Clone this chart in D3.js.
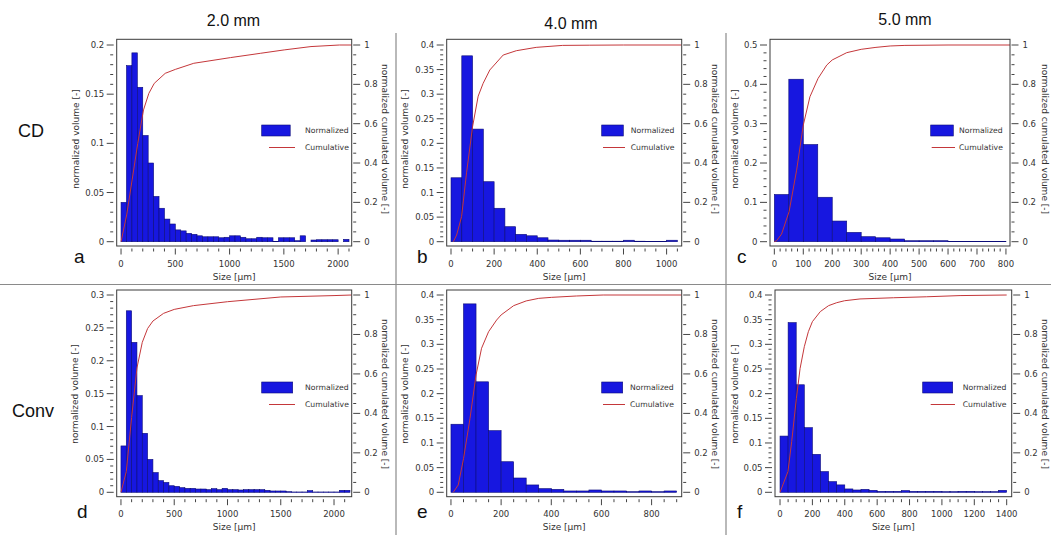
<!DOCTYPE html>
<html lang="en">
<head>
    <meta charset="UTF-8">
    <title>Particle size distributions</title>
    <script src="https://d3js.org/d3.v7.min.js"></script>
    <style>
        body { margin: 0; background: #fff; }
        svg text { fill: #333; }
    </style>
</head>
<body>
 <div id="mainbody"></div>
 <script>

    // ---- data ----
    const BIN = 50;   // bin width in µm

    const colTitles = ["2.0 mm", "4.0 mm", "5.0 mm"];
    const rowTitles = ["CD", "Conv"];

    const binsA = d3.range(0, 2100, BIN);
    const normA = [0.040,0.179,0.192,0.157,0.108,0.080,0.046,0.034,0.023,0.018,
                   0.012,0.011,0.0085,0.0075,0.006,0.005,0.005,0.005,0.004,0.0045,
                   0.006,0.006,0.0045,0.003,0.003,0.0045,0.004,0.004,0.0003,0.004,
                   0.004,0.004,0.001,0.006,0,0.0017,0.002,0.002,0.002,0.002,
                   0,0.0024];
    const cumXA = [0,52,102,154,207,256,306,407,500,670,1009,1287,1503,1750,2012,2125];
    const cumYA = [0,0.136,0.314,0.5,0.67,0.754,0.805,0.856,0.876,0.907,0.936,0.958,0.975,0.992,1.0,1.0];

    const binsB = d3.range(0, 1050, BIN);
    const normB = [0.130,0.378,0.229,0.122,0.068,0.0305,0.015,0.012,0.008,0.0034,
                   0.003,0.003,0.003,0.001,0.001,0.001,0.003,0.001,0.0007,0.0007,0.003];
    const cumXB = [11,26,49,72,100,126,149,180,242,303,395,518,641,800,1070];
    const cumYB = [0,0.034,0.127,0.35,0.585,0.74,0.805,0.873,0.949,0.971,0.988,0.998,0.999,1.0,1.0];

    const binsC = d3.range(0, 800, BIN);
    const normC = [0.120,0.413,0.247,0.113,0.0525,0.0237,0.0127,0.010,0.0068,0.0025,
                   0.0025,0.0025,0.0003,0.0003,0.0003,0.0003];
    const cumXC = [0,8,25,51,77,100,123,151,181,200,250,300,351,400,451,600,814];
    const cumYC = [0,0.005,0.039,0.153,0.364,0.593,0.737,0.83,0.898,0.924,0.961,0.978,0.988,0.995,0.998,1.0,1.0];

    const binsD = d3.range(0, 2150, BIN);
    const normD = [0.0705,0.276,0.228,0.147,0.0897,0.050,0.030,0.0177,0.015,0.010,
                   0.009,0.007,0.006,0.006,0.005,0.005,0.004,0.0055,0.004,0.006,
                   0.004,0.004,0.0035,0.004,0.004,0.004,0.004,0.003,0.002,0.002,
                   0.002,0.001,0.0005,0.0005,0.0005,0.0025,0.0005,0.0005,0.0005,0.0005,
                   0.0005,0.003,0.003];
    const cumXD = [0,50,100,150,200,250,300,400,500,680,1000,1500,2000,2166];
    const cumYD = [0,0.105,0.38,0.63,0.76,0.83,0.868,0.907,0.927,0.946,0.966,0.99,0.997,1.0];

    const binsE = d3.range(0, 900, BIN);
    const normE = [0.138,0.382,0.224,0.125,0.062,0.029,0.0149,0.0074,0.006,0.0027,
                   0.0027,0.0047,0.0027,0.0027,0.0013,0.0027,0.0013,0.0027];
    const cumXE = [9,29,50,76,100,122,150,182,200,250,300,350,400,500,607,920];
    const cumYE = [0,0.037,0.17,0.375,0.595,0.73,0.814,0.873,0.899,0.946,0.97,0.983,0.988,0.995,1.0,1.0];

    const binsF = d3.range(0, 1400, BIN);
    const normF = [0.114,0.344,0.218,0.131,0.077,0.042,0.0216,0.015,0.0068,0.0047,
                   0.006,0.004,0.002,0.002,0.002,0.0034,0.002,0.002,0.002,0.002,
                   0.0013,0.0013,0.002,0.002,0.0013,0.0013,0.0013,0.004];
    const cumXF = [0,49,72,101,124,150,175,200,249,300,350,399,494,700,906,1112,1400];
    const cumYF = [0,0.105,0.257,0.476,0.628,0.738,0.814,0.865,0.916,0.946,0.961,0.971,0.98,0.986,0.991,0.997,1.0];

    // tick labels
    const yTicksA = [0,0.05,0.1,0.15,0.2];
    const yTicksB = [0,0.05,0.1,0.15,0.2,0.25,0.3,0.35,0.4];
    const yTicksC = [0,0.1,0.2,0.3,0.4,0.5];
    const yTicksD = [0,0.05,0.1,0.15,0.2,0.25,0.3];
    const yTicksE = yTicksB;
    const yTicksF = yTicksB;
    const xTicksA = [0,500,1000,1500,2000];
    const xTicksB = [0,200,400,600,800,1000];
    const xTicksC = [0,100,200,300,400,500,600,700,800];
    const xTicksD = [0,500,1000,1500,2000];
    const xTicksE = [0,200,400,600,800];
    const xTicksF = [0,200,400,600,800,1000,1200,1400];
    const rTicks  = [0,0.2,0.4,0.6,0.8,1];

    const legendLabels = ["Normalized", "Cumulative"];

    // ---- layout (pixels) ----
    const panels = [
        {key:"a", bins:binsA, norm:normA, cx:cumXA, cy:cumYA, yMax:0.2, yT:yTicksA, yMinor:0.01, xT:xTicksA, xMinor:100,
         fl:116.7, fr:351.7, xDom:[-40,2125], lx:74, ltx:76, rtx:385, leg:{rx:261.7, rw:28.5, tx:305, l1:269, l2:295}},
        {key:"b", bins:binsB, norm:normB, cx:cumXB, cy:cumYB, yMax:0.4, yT:yTicksB, yMinor:0.01, xT:xTicksB, xMinor:50,
         fl:446.7, fr:681.7, xDom:[-20,1070], lx:417, ltx:405, rtx:715, leg:{rx:601.7, rw:21.6, tx:630.7, l1:603, l2:625}},
        {key:"c", bins:binsC, norm:normC, cx:cumXC, cy:cumYC, yMax:0.5, yT:yTicksC, yMinor:0.02, xT:xTicksC, xMinor:20,
         fl:770, fr:1010, xDom:[-15,814], lx:737, ltx:735, rtx:1045, leg:{rx:930.7, rw:22.6, tx:959, l1:931.7, l2:955}},
        {key:"d", bins:binsD, norm:normD, cx:cumXD, cy:cumYD, yMax:0.3, yT:yTicksD, yMinor:0.01, xT:xTicksD, xMinor:100,
         fl:116.7, fr:351.7, xDom:[-40,2166], lx:77, ltx:75, rtx:385, leg:{rx:261.7, rw:31, tx:305, l1:269, l2:295}},
        {key:"e", bins:binsE, norm:normE, cx:cumXE, cy:cumYE, yMax:0.4, yT:yTicksE, yMinor:0.01, xT:xTicksE, xMinor:50,
         fl:446.7, fr:681.7, xDom:[-17,920], lx:417, ltx:405, rtx:715, leg:{rx:601.7, rw:21, tx:630, l1:603, l2:625}},
        {key:"f", bins:binsF, norm:normF, cx:cumXF, cy:cumYF, yMax:0.4, yT:yTicksF, yMinor:0.01, xT:xTicksF, xMinor:50,
         fl:775, fr:1011.7, xDom:[-31,1431], lx:737, ltx:735, rtx:1045, leg:{rx:922.7, rw:30, tx:962.7, l1:930.7, l2:955}}
    ];
    // per row: frame top/bottom, value 0 and top pixel
    const rows = [
        {ft:39.3, fb:246, y0:241.7, yTop:45, titleY:139, legY:125, letterY:263},
        {ft:290, fb:496.7, y0:492.3, yTop:295, titleY:394, legY:382, letterY:518}
    ];

    const AXF = "DejaVu Sans";
    const BAR = "#1717e0", BAREDGE = "#0b0b78", CUM = "#c4373a";

    const svg = d3.select("#mainbody").append("svg")
        .attr("width", 1051)
        .attr("height", 535);

    // separators
    svg.append("line").attr("x1",0).attr("x2",1051).attr("y1",284.5).attr("y2",284.5)
        .attr("stroke","#8a8a8a").attr("stroke-width",1.2);
    [396, 726].forEach(x => {
        svg.append("line").attr("x1",x).attr("x2",x).attr("y1",33).attr("y2",535)
            .attr("stroke","#8a8a8a").attr("stroke-width",1.2);
    });

    // column / row titles
    const colX = [233.5, 571, 905], colY = [26, 29, 25];
    svg.selectAll(".coltitle").data(colTitles).enter().append("text")
        .attr("class","coltitle")
        .attr("x",(d,i) => colX[i]).attr("y",(d,i) => colY[i])
        .attr("text-anchor","middle")
        .style("font-family","Liberation Sans, Arial").style("font-size","16px").style("fill","#111")
        .text(d => d);
    const rowX = [18, 12], rowY = [137, 417];
    svg.selectAll(".rowtitle").data(rowTitles).enter().append("text")
        .attr("class","rowtitle")
        .attr("x",(d,i) => rowX[i]).attr("y",(d,i) => rowY[i])
        .style("font-family","Liberation Sans, Arial").style("font-size","18px").style("fill","#111")
        .text(d => d);

    panels.forEach((p, idx) => {
        const r = rows[Math.floor(idx / 3)];
        const g = svg.append("g");

        const x = d3.scaleLinear().domain(p.xDom).range([p.fl, p.fr]);
        const y = d3.scaleLinear().domain([0, p.yMax]).range([r.y0, r.yTop]);
        const yR = d3.scaleLinear().domain([0, 1]).range([r.y0, r.yTop]);

        const clipId = "clip-" + p.key;
        g.append("clipPath").attr("id", clipId).append("rect")
            .attr("x", p.fl).attr("y", r.ft).attr("width", p.fr - p.fl).attr("height", r.fb - r.ft);

        const plot = g.append("g").attr("clip-path", `url(#${clipId})`);

        // histogram bars
        plot.selectAll(".bar").data(p.bins).enter().append("rect")
            .attr("class","bar")
            .attr("x", d => x(d))
            .attr("width", d => x(d + BIN) - x(d))
            .attr("y", (d,i) => y(p.norm[i]))
            .attr("height", (d,i) => r.y0 - y(p.norm[i]))
            .attr("fill", BAR)
            .attr("stroke", BAREDGE)
            .attr("stroke-width", 0.6);

        // cumulative curve
        const line = d3.line().x(d => x(d[0])).y(d => yR(d[1]));
        plot.append("path")
            .datum(p.cx.map((v, i) => [v, p.cy[i]]))
            .attr("d", line)
            .attr("fill","none")
            .attr("stroke", CUM)
            .attr("stroke-width", 1);

        // frame
        g.append("rect")
            .attr("x", p.fl).attr("y", r.ft).attr("width", p.fr - p.fl).attr("height", r.fb - r.ft)
            .attr("fill","none").attr("stroke","#3a3a3a").attr("stroke-width",1);

        // left axis
        const yMinor = d3.range(0, p.yMax + 1e-9, p.yMinor)
            .filter(v => !p.yT.some(t => Math.abs(t - v) < 1e-9));
        g.selectAll(".ymin").data(yMinor).enter().append("line")
            .attr("x1", p.fl - 6.5).attr("x2", p.fl - 3.5)
            .attr("y1", d => y(d)).attr("y2", d => y(d))
            .attr("stroke","#444").attr("stroke-width",1);
        g.selectAll(".ymaj").data(p.yT).enter().append("line")
            .attr("x1", p.fl - 10).attr("x2", p.fl - 3)
            .attr("y1", d => y(d)).attr("y2", d => y(d))
            .attr("stroke","#444").attr("stroke-width",1);
        g.selectAll(".ylab").data(p.yT).enter().append("text")
            .attr("x", p.fl - 12.5).attr("y", d => y(d))
            .attr("dy","0.35em").attr("text-anchor","end")
            .style("font-family",AXF).style("font-size","8.5px")
            .text(d => String(d));

        // right axis
        const rMinor = d3.range(0, 1.0001, 0.05).filter(v => !rTicks.some(t => Math.abs(t - v) < 1e-9));
        g.selectAll(".rmin").data(rMinor).enter().append("line")
            .attr("x1", p.fr + 1.5).attr("x2", p.fr + 4.5)
            .attr("y1", d => yR(d)).attr("y2", d => yR(d))
            .attr("stroke","#444").attr("stroke-width",1);
        g.selectAll(".rmaj").data(rTicks).enter().append("line")
            .attr("x1", p.fr + 1.5).attr("x2", p.fr + 8.5)
            .attr("y1", d => yR(d)).attr("y2", d => yR(d))
            .attr("stroke","#444").attr("stroke-width",1);
        g.selectAll(".rlab").data(rTicks).enter().append("text")
            .attr("x", p.fr + 12.5).attr("y", d => yR(d))
            .attr("dy","0.35em")
            .style("font-family",AXF).style("font-size","8.5px")
            .text(d => String(d));

        // x axis (ticks only, below the frame)
        const xMinor = d3.range(0, p.xDom[1], p.xMinor).filter(v => !p.xT.includes(v));
        g.selectAll(".xmin").data(xMinor).enter().append("line")
            .attr("x1", d => x(d)).attr("x2", d => x(d))
            .attr("y1", r.fb + 2.5).attr("y2", r.fb + 5.5)
            .attr("stroke","#444").attr("stroke-width",1);
        g.selectAll(".xmaj").data(p.xT).enter().append("line")
            .attr("x1", d => x(d)).attr("x2", d => x(d))
            .attr("y1", r.fb + 2.5).attr("y2", r.fb + 8.5)
            .attr("stroke","#444").attr("stroke-width",1);
        g.selectAll(".xlab").data(p.xT).enter().append("text")
            .attr("x", d => x(d)).attr("y", r.fb + 20.5)
            .attr("text-anchor","middle")
            .style("font-family",AXF).style("font-size","8.5px")
            .text(d => String(d));

        // axis titles
        g.append("text")
            .attr("x", (p.fl + p.fr) / 2).attr("y", r.fb + 33.5)
            .attr("text-anchor","middle")
            .style("font-family",AXF).style("font-size","9px")
            .text("Size [µm]");
        g.append("text")
            .attr("transform", `translate(${p.ltx},${r.titleY}) rotate(-90)`)
            .attr("text-anchor","middle").attr("dy","0.35em")
            .style("font-family",AXF).style("font-size","9px")
            .text("normalized volume [-]");
        g.append("text")
            .attr("transform", `translate(${p.rtx},${r.titleY}) rotate(90)`)
            .attr("text-anchor","middle").attr("dy","0.35em")
            .style("font-family",AXF).style("font-size","9px")
            .text("normalized cumulated volume [-]");

        // panel letter
        g.append("text")
            .attr("x", p.lx).attr("y", r.letterY)
            .style("font-family","Liberation Sans, Arial").style("font-size","19px").style("fill","#111")
            .text(p.key);

        // legend
        g.append("rect")
            .attr("x", p.leg.rx).attr("y", r.legY).attr("width", p.leg.rw).attr("height", 11)
            .attr("fill", BAR).attr("stroke", BAREDGE).attr("stroke-width", 0.6);
        g.append("line")
            .attr("x1", p.leg.l1).attr("x2", p.leg.l2)
            .attr("y1", r.legY + 22.5).attr("y2", r.legY + 22.5)
            .attr("stroke", CUM).attr("stroke-width", 1);
        g.selectAll(".legtxt").data(legendLabels).enter().append("text")
            .attr("x", p.leg.tx).attr("y", (d,i) => r.legY + 5.5 + i * 17)
            .attr("dy","0.35em")
            .style("font-family",AXF).style("font-size","7.7px")
            .text(d => d);
    });

 </script>
</body>
</html>
